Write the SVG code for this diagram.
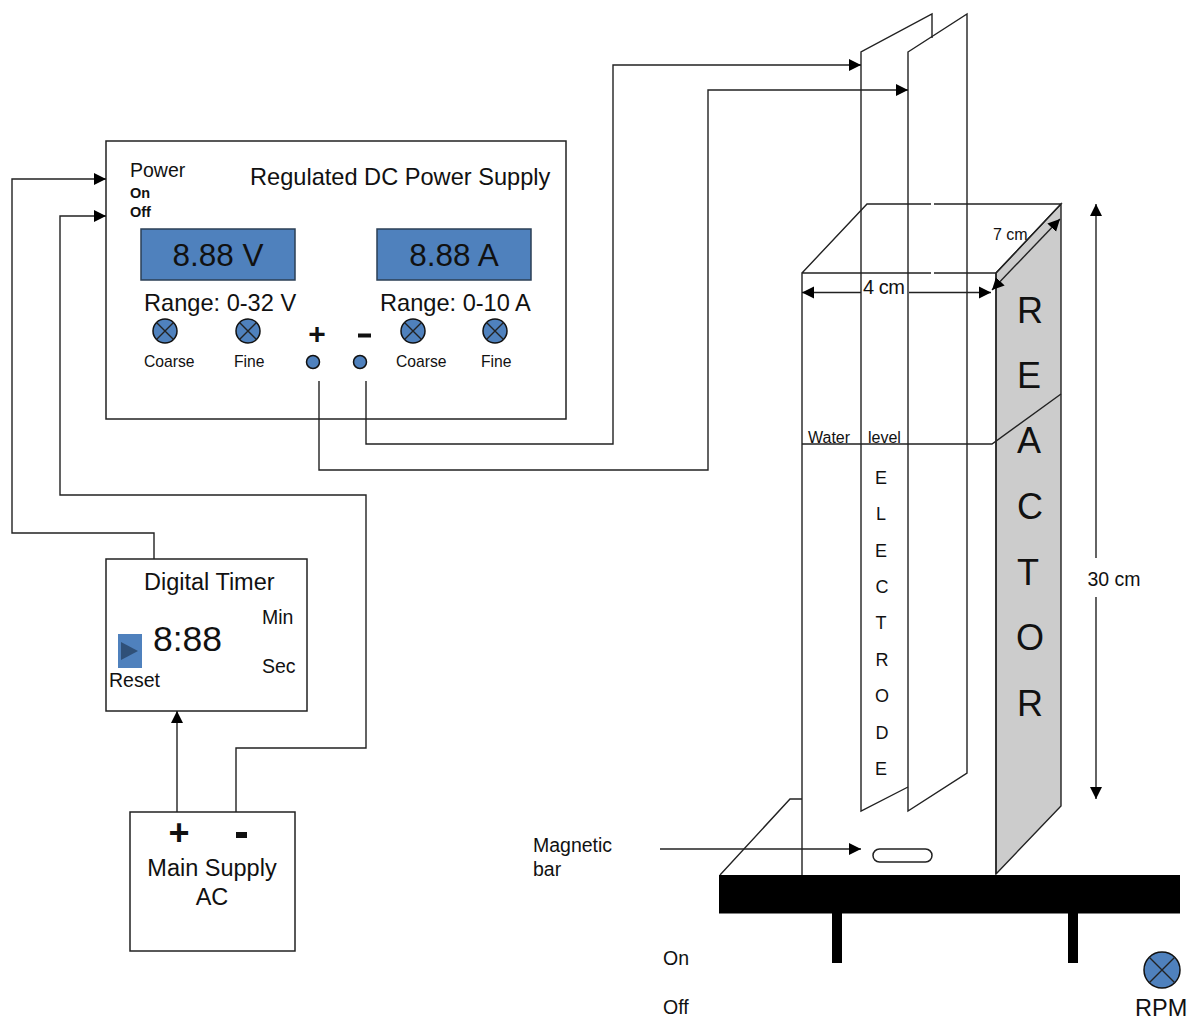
<svg xmlns="http://www.w3.org/2000/svg" width="1190" height="1021" viewBox="0 0 1190 1021">
<style>
text{font-family:"Liberation Sans",Arial,sans-serif;fill:#111}
.l{fill:none;stroke:#222;stroke-width:1.4}
.w{fill:#fff;stroke:#222;stroke-width:1.5}
.k{fill:#4f81bd;stroke:#111;stroke-width:1.5}
.b{fill:#4f81bd;stroke:#2b3f55;stroke-width:1.5}
.a{marker-end:url(#ah)}
.m{text-anchor:middle}
</style>
<defs>
<marker id="ah" markerUnits="userSpaceOnUse" markerWidth="14" markerHeight="14" refX="12" refY="7" orient="auto"><path d="M0,1L12,7L0,13Z" fill="#000"/></marker>
<marker id="as" markerUnits="userSpaceOnUse" markerWidth="14" markerHeight="14" refX="2" refY="7" orient="auto"><path d="M14,1L2,7L14,13Z" fill="#000"/></marker>
<g id="knob"><circle r="12" class="k"/><path class="l" d="M-8.5,-8.500L8.500,8.500M-8.500,8.500L8.500,-8.500"/></g>
</defs>

<g id="reactor">
<path d="M996,273L1061,204V806L996,874Z" fill="#ccc" stroke="#222" stroke-width="1.4"/>
<path class="l" d="M802,875V273H996M802,273L867,204H1061L996,273M996,273V874"/>
<path class="l" d="M802,444H992L1061,394"/>
<path class="l" d="M720,875L790,799H802"/>
<path d="M931,204h3M931,273h3" stroke="#fff" stroke-width="2.500"/>
<g font-size="36">
<text x="1030" y="323" class="m">R</text><text x="1029" y="388" class="m">E</text><text x="1029" y="453" class="m">A</text><text x="1030" y="519" class="m">C</text><text x="1028" y="585" class="m">T</text><text x="1030" y="650" class="m">O</text><text x="1030" y="716" class="m">R</text>
</g>
</g>

<g id="electrodes">
<path class="l" d="M932,38V14L861,52V811L908,787"/>
<path class="l" d="M908,52L967,14V773L908,811Z"/>
<g font-size="18">
<text x="881" y="484" class="m">E</text><text x="881" y="520" class="m">L</text><text x="881" y="557" class="m">E</text><text x="882" y="593" class="m">C</text><text x="881" y="629" class="m">T</text><text x="882" y="666" class="m">R</text><text x="882" y="702" class="m">O</text><text x="882" y="739" class="m">D</text><text x="881" y="775" class="m">E</text>
</g>
<text x="808" y="443" font-size="16">Water</text><text x="868" y="443" font-size="16">level</text>
</g>

<g id="dimensions">
<path class="l" d="M802,292.500H861" marker-start="url(#as)"/>
<path class="l a" d="M909,292.500H991"/>
<text x="863" y="294" font-size="20" textLength="42">4 cm</text>
<path class="l a" d="M992,290L1060,219" marker-start="url(#as)"/>
<text x="993" y="240" font-size="16">7 cm</text>
<path class="l" d="M1096,204V558" marker-start="url(#as)"/>
<path class="l a" d="M1096,597V799"/>
<text x="1114" y="586" font-size="19.500" class="m">30 cm</text>
</g>

<g id="stirrer">
<rect x="719" y="875" width="461" height="38.500" fill="#000"/>
<rect x="832" y="913" width="10" height="50" fill="#000"/>
<rect x="1068" y="913" width="10" height="50" fill="#000"/>
<rect x="873" y="849" width="59" height="13" rx="6.500" class="w"/>
<text x="533" y="852" font-size="19.500">Magnetic</text><text x="533" y="876" font-size="19.500">bar</text>
<text x="663" y="965" font-size="19.500">On</text><text x="663" y="1014" font-size="19.500">Off</text>
<g id="rpm-knob"><circle cx="1162" cy="970" r="18" class="k"/><path class="l" d="M1149,957L1175,983M1149,983L1175,957"/></g>
<text x="1135" y="1015.500" font-size="23.500">RPM</text>
</g>

<g id="power-supply">
<rect x="106" y="141" width="460" height="278" class="w"/>
<text x="130" y="177" font-size="19.500">Power</text>
<text x="130" y="198" font-size="14.500" font-weight="bold">On</text>
<text x="130" y="217" font-size="14.500" font-weight="bold">Off</text>
<text x="250" y="185" font-size="23.600">Regulated DC Power Supply</text>
<rect x="141" y="229" width="154" height="51" class="b"/>
<rect x="377" y="229" width="154" height="51" class="b"/>
<text x="218" y="266" font-size="31.500" class="m">8.88 V</text>
<text x="454" y="266" font-size="31.500" class="m">8.88 A</text>
<text x="144" y="311" font-size="23.600">Range: 0-32 V</text>
<text x="380" y="311" font-size="23.600">Range: 0-10 A</text>
<use href="#knob" x="165" y="331"/><use href="#knob" x="248" y="331"/><use href="#knob" x="413" y="331"/><use href="#knob" x="495" y="331"/>
<text x="144" y="367" font-size="15.700">Coarse</text><text x="234" y="367" font-size="15.700">Fine</text>
<text x="396" y="367" font-size="15.700">Coarse</text><text x="481" y="367" font-size="15.700">Fine</text>
<text x="317" y="344" font-size="30" font-weight="bold" class="m">+</text>
<rect x="358" y="333.500" width="13" height="4" fill="#111"/>
<circle cx="313" cy="362" r="6.500" class="k"/><circle cx="360" cy="362" r="6.500" class="k"/>
</g>

<g id="digital-timer">
<rect x="106" y="559" width="201" height="152" class="w"/>
<text x="144" y="590" font-size="23.500">Digital Timer</text>
<text x="153" y="651" font-size="35.500">8:88</text>
<text x="262" y="624" font-size="19.500">Min</text><text x="262" y="673" font-size="19.500">Sec</text>
<rect x="118" y="634" width="24" height="34" fill="#4f81bd"/>
<path d="M121,642L138,651L121,660Z" fill="#2f5078"/>
<text x="109" y="687" font-size="19.500">Reset</text>
</g>

<g id="main-supply">
<rect x="130" y="812" width="165" height="139" class="w"/>
<text x="179" y="845" font-size="36" font-weight="bold" class="m">+</text>
<rect x="236" y="832" width="11" height="6" fill="#111"/>
<text x="212" y="876" font-size="23.500" class="m">Main Supply</text>
<text x="212" y="905" font-size="23.500" class="m">AC</text>
</g>

<g id="connectors">
<path class="l a" d="M154,559V533H12V179H106"/>
<path class="l a" d="M236,812V748H366V495H60V216H106"/>
<path class="l a" d="M177,812V711"/>
<path class="l a" d="M366,381V444H613V65H861"/>
<path class="l a" d="M319,381V470H708V90H908"/>
<path class="l a" d="M660,849H861"/>
</g>
</svg>
